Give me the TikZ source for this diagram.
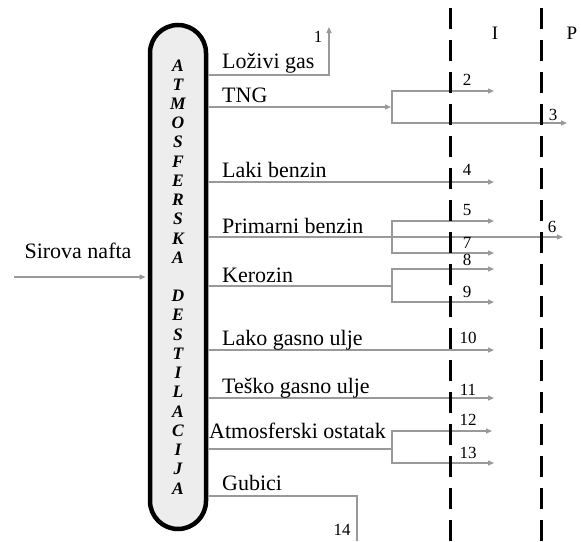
\documentclass[tikz,border=0pt]{standalone}
\usepackage{fontspec}
\setmainfont{Liberation Serif}
\usetikzlibrary{arrows.meta}
\definecolor{flowgray}{gray}{0.6}
\definecolor{colfill}{gray}{0.93}
\begin{document}
\begin{tikzpicture}[x=1pt,y=-1pt,
  flow/.style={draw=flowgray, line width=1.3pt},
  tip/.tip={Triangle[length=6pt,width=5pt]},
  arr/.style={flow, -tip},
  biarr/.style={flow, tip-tip},
  lbl/.style={anchor=base west, inner sep=0pt, font=\fontsize{22}{26}\selectfont},
  num/.style={anchor=base, inner sep=0pt, font=\fontsize{17}{20}\selectfont},
  colletter/.style={anchor=base, inner sep=0pt, font=\fontsize{17.5}{20}\selectfont\bfseries\itshape},
  zone/.style={anchor=base, inner sep=0pt, font=\fontsize{19}{22}\selectfont},
  divider/.style={line width=3pt, dash pattern=on 21pt off 11pt}
]
\useasboundingbox (0,0) rectangle (581,541);

% column
\node[draw, line width=4.5pt, fill=colfill, rounded corners=28pt,
      minimum width=56pt, minimum height=504pt, inner sep=0pt] (col) at (178,277) {};
\foreach \ch/\i in {A/0,T/1,M/2,O/3,S/4,F/5,E/6,R/7,S/8,K/9,A/10,
                    D/12,E/13,S/14,T/15,I/16,L/17,A/18,C/19,I/20,J/21,A/22}
  \node[colletter] (l\i) at (178,{71+19.23*\i}) {\ch};

% input
\node[anchor=base, inner sep=0pt, font=\fontsize{22}{26}\selectfont] (sn) at (78,258) {Sirova nafta};
\coordinate (src) at (14,277);
\draw[arr, shorten >=2.2pt] (src) -- (col.west |- 0,277);

% coordinates
\coordinate (e1) at (329,27);
\coordinate (bTNG) at (391,107);
\coordinate (e3) at (567,123);
\coordinate (e6) at (563,237);
\coordinate (e14) at (357,541);

% product lines
\draw[arr] (col.east |- 0,75) -| (e1);
\draw[arr] (col.east |- 0,107) -- (bTNG);
\draw[biarr] (494,91) -- (392,91) -- (392,123) -- (e3);
\draw[arr] (col.east |- 0,182) -- (494,182);
\draw[arr] (col.east |- 0,237) -- (e6);
\draw[biarr] (494,221) -- (392,221) -- (392,253) -- (494,253);
\draw[flow] (col.east |- 0,286) -- (392,286);
\draw[biarr] (494,269) -- (392,269) -- (392,302) -- (494,302);
\draw[arr] (col.east |- 0,350) -- (494,350);
\draw[arr] (col.east |- 0,398) -- (494,398);
\draw[flow] (col.east |- 0,449) -- (392,449);
\draw[biarr] (492,431) -- (392,431) -- (392,463) -- (494,463);
\draw[flow] (col.east |- 0,496) -| (e14);

% labels
\node[lbl] (t1) at (222,68) {Loživi gas};
\node[lbl] (t2) at (222,102) {TNG};
\node[lbl] (t3) at (222,177) {Laki benzin};
\node[lbl] (t4) at (222,233) {Primarni benzin};
\node[lbl] (t5) at (222,282) {Kerozin};
\node[lbl] (t6) at (222,345) {Lako gasno ulje};
\node[lbl] (t7) at (222,393) {Teško gasno ulje};
\node[lbl] (t8) at (209,438) {Atmosferski ostatak};
\node[lbl] (t9) at (222,490) {Gubici};

% numbers
\node[num] (n1) at (318,42) {1};
\node[num] (n2) at (467,85) {2};
\node[num] (n3) at (553,120) {3};
\node[num] (n4) at (467,175) {4};
\node[num] (n5) at (467,215) {5};
\node[num] (n6) at (552,232) {6};
\node[num] (n7) at (467,248) {7};
\node[num] (n8) at (467,265) {8};
\node[num] (n9) at (467,297) {9};
\node[num] (n10) at (468,343) {10};
\node[num] (n11) at (468,395) {11};
\node[num] (n12) at (468,425) {12};
\node[num] (n13) at (468,458) {13};
\node[num] (n14) at (342,535) {14};

% zones
\node[zone] (zI) at (495,39) {I};
\node[zone] (zP) at (572,39) {P};
\draw[divider] (450,8) -- (450,541);
\draw[divider] (541,8) -- (541,541);
\end{tikzpicture}
\end{document}
